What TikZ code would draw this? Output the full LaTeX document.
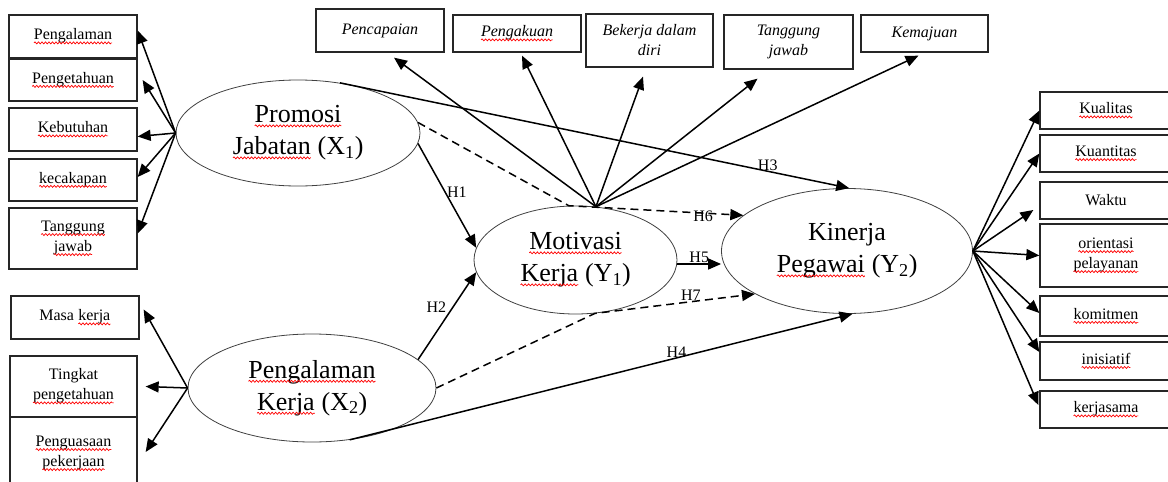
\documentclass[tikz,border=0pt]{standalone}
\usepackage{fontspec}
\setmainfont{Liberation Serif}
\usetikzlibrary{arrows.meta,shapes.geometric,decorations.pathmorphing}

% red wavy spell-check underline
\newcommand\wv[1]{\tikz[baseline=(w.base)]{\node[shape=rectangle, inner sep=0pt, outer sep=0pt,
        minimum width=0pt, minimum height=0pt, draw=none, fill=none, align=left] (w) {#1};
    \draw[red, line width=0.7pt, solid, decorate, decoration={snake, amplitude=1pt, segment length=3.5pt}]
        ([yshift=-3pt]w.base west) -- ([yshift=-3pt]w.base east);}}

\tikzset{
    ind/.style 2 args={draw=black!85, line width=1.3pt, inner sep=0pt, align=center,
        minimum width=#1pt, minimum height=#2pt, font=\fontsize{16}{20}\selectfont},
    indit/.style 2 args={ind={#1}{#2}, font=\fontsize{16}{20}\selectfont\itshape},
    latent/.style 2 args={draw=black!75, ellipse, line width=0.8pt, inner sep=0pt, align=center,
        minimum width=#1pt, minimum height=#2pt, font=\fontsize{26}{32}\selectfont},
    arr/.style={line width=1.5pt, -{Triangle[length=13pt,width=11pt]}},
    dsh/.style={arr, dash pattern=on 8pt off 5pt},
    hlab/.style={font=\fontsize{16}{18}\selectfont, inner sep=1pt}
}

\begin{document}
\begin{tikzpicture}[x=1pt,y=-1pt]
        \useasboundingbox (0,0) rectangle (1168,482);

        % latent variables
        \node[latent={244}{106}] (X1) at (298,133) {\wv{Promosi}\\\wv{Jabatan} (X\textsubscript{1})};
        \node[latent={248}{108}] (X2) at (312,388) {\wv{Pengalaman}\\\wv{Kerja} (X\textsubscript{2})};
        \node[latent={203}{108}] (Y1) at (575.5,260) {\wv{Motivasi}\\\wv{Kerja} (Y\textsubscript{1})};
        \node[latent={251}{125}] (Y2) at (847,251) {Kinerja\\\wv{Pegawai} (Y\textsubscript{2})};

        % indicators X1
        \node[ind={128}{43}] (pA) at (73,36.5) {\wv{Pengalaman}};
        \node[ind={128}{42}] (pB) at (73,80) {\wv{Pengetahuan}};
        \node[ind={128}{43}] (pC) at (73,129.5) {\wv{Kebutuhan}};
        \node[ind={128}{42}] (pD) at (73,180) {\wv{kecakapan}};
        \node[ind={128}{61}] (pE) at (73,238.5) {\wv{Tanggung}\\\wv{jawab}};

        % indicators X2
        \node[ind={128}{43}] (kA) at (75,317.5) {Masa \wv{kerja}};
        \node[ind={127}{61}] (kB) at (73.5,386.5) {Tingkat\\\wv{pengetahuan}};
        \node[ind={127}{73}] (kC) at (73.5,453.5) {\wv{Penguasaan}\\\wv{pekerjaan}};

        % indicators Y1
        \node[indit={128}{43}] (mA) at (380,30.5) {Pencapaian};
        \node[indit={128}{37}] (mB) at (517,33.5) {\wv{Pengakuan}};
        \node[indit={127}{53}] (mC) at (649.5,40.5) {Bekerja dalam\\diri};
        \node[indit={129}{54}] (mD) at (788.5,42) {Tanggung\\jawab};
        \node[indit={127}{37}] (mE) at (924.5,33.5) {Kemajuan};

        % indicators Y2
        \node[ind={132}{37}] (yA) at (1106,110.5) {\wv{Kualitas}};
        \node[ind={132}{37}] (yB) at (1106,153.5) {\wv{Kuantitas}};
        \node[ind={132}{37}] (yC) at (1106,200.5) {Waktu};
        \node[ind={132}{63}] (yD) at (1106,255.5) {\wv{orientasi}\\\wv{pelayanan}};
        \node[ind={132}{40}] (yE) at (1106,316) {\wv{komitmen}};
        \node[ind={132}{38}] (yF) at (1106,361) {\wv{inisiatif}};
        \node[ind={132}{37}] (yG) at (1106,409.5) {\wv{kerjasama}};

        % loadings
        \foreach \t/\dx/\dy in {pA/0/6, pB/5/0, pC/0/-7, pD/0/3, pE/0/5} {
            \draw[arr] (X1.west) -- ([shift={(\dx pt,\dy pt)}]\t.east);
        }
        \foreach \t/\dx/\dy in {kA/4/8, kB/8/0, kC/8/1.5} {
            \draw[arr] (X2.west) -- ([shift={(\dx pt,\dy pt)}]\t.east);
        }
        \foreach \t/\dx/\dy in {mA/14/-5, mB/5/-3, mC/-6.5/-9, mD/-31/-9, mE/-6/-3} {
            \draw[arr] (Y1.69) -- ([shift={(\dx pt,\dy pt)}]\t.south);
        }
        \foreach \t/\dx/\dy in {yA/0/0, yB/0/0, yC/-6/-9.5, yD/0/0, yE/0/3, yF/0/9, yG/-1/4.5} {
            \draw[arr] (Y2.east) -- ([shift={(\dx pt,\dy pt)}]\t.west);
        }

        % hypotheses
        \draw[arr] (X1.-5) -- node[hlab, pos=.47, anchor=west] {H1} (Y1.173);
        \draw[arr] (X2.15) -- node[hlab, pos=.6, anchor=east, xshift=-5pt] {H2} (Y1.187);
        \draw[arr] (X1.50) -- node[hlab, pos=.84, above, inner sep=0pt] {H3} (Y2.88);
        \draw[arr] (X2.-54) -- node[hlab, pos=.65, above, inner sep=0pt] {H4} (Y2.-85);
        \draw[arr] ([yshift=-4pt]Y1.east) -- node[hlab, above, inner sep=0.5pt] {H5} ([yshift=-4pt]Y1.east -| Y2.west);
        \draw[dsh] (X1.5) -- (Y1.97) -- node[hlab, pos=.77, yshift=-3pt] {H6} (Y2.161);
        \draw[dsh] (X2.east) -- (Y1.-70) -- node[hlab, pos=.6, above, inner sep=0pt] {H7} (Y2.205);

\end{tikzpicture}
\end{document}
